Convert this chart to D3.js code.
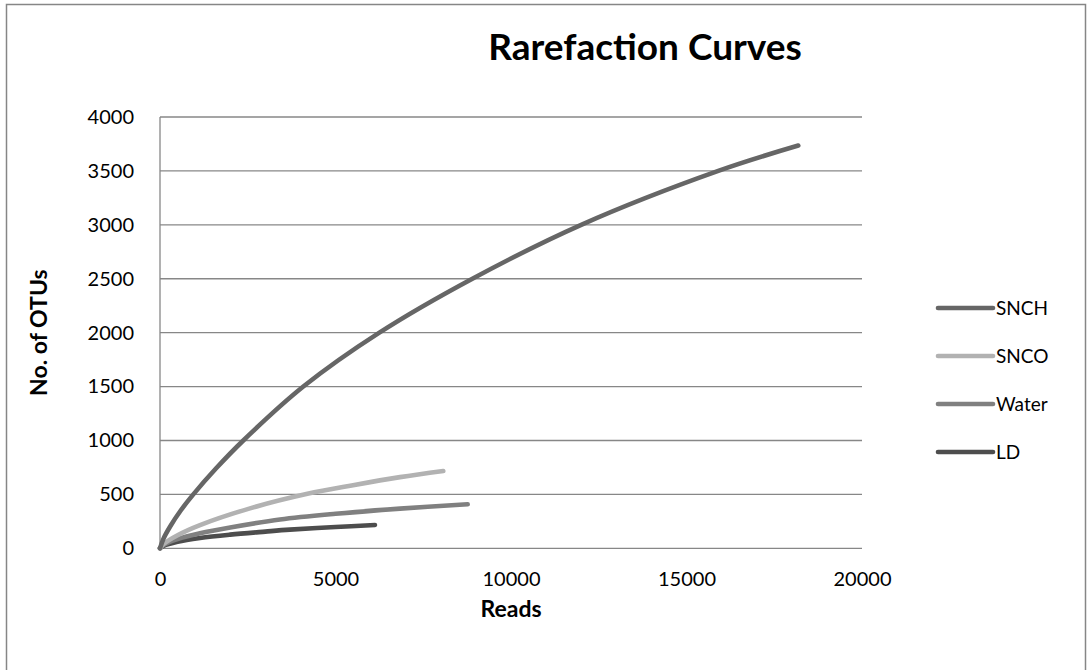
<!DOCTYPE html>
<html>
<head>
<meta charset="utf-8">
<script src="https://cdn.jsdelivr.net/npm/d3@7"></script>
<style>
  html, body { margin: 0; padding: 0; background: #fff; }
  svg { display: block; }
  text { font-family: Lato, "Open Sans", "Noto Sans", sans-serif; fill: #000; }
</style>
</head>
<body>
<svg id="chart" width="1090" height="670"></svg>
<script>
// Rarefaction data: sequencing reads sampled vs. observed OTUs
const seriesNames = ["SNCH", "SNCO", "Water", "LD"];

const snchReads = [0, 100, 285, 600, 949, 1600, 2373, 4083, 6250, 8900, 12000, 15906, 18185];
const snchOtus  = [0, 90, 200, 355, 500, 742, 1000, 1500, 2000, 2500, 3000, 3500, 3735];

const sncoReads = [0, 100, 500, 1140, 2564, 4200, 5500, 6838, 8071];
const sncoOtus  = [0, 39, 121, 215, 370, 505, 585, 660, 717];

const waterReads = [0, 100, 500, 1140, 2000, 3419, 5000, 6838, 8766];
const waterOtus  = [0, 30, 85, 139, 193, 267, 320, 368, 408];

const ldReads = [0, 100, 500, 1140, 2000, 3000, 3700, 5000, 6125];
const ldOtus  = [0, 23, 61, 96, 127, 155, 173, 197, 216];

const xTicks = [0, 5000, 10000, 15000, 20000];
const yTicks = [0, 500, 1000, 1500, 2000, 2500, 3000, 3500, 4000];

const seriesColors = ["#666666", "#b2b2b2", "#808080", "#4d4d4d"];

const series = [
  { name: seriesNames[0], reads: snchReads, otus: snchOtus },
  { name: seriesNames[1], reads: sncoReads, otus: sncoOtus },
  { name: seriesNames[2], reads: waterReads, otus: waterOtus },
  { name: seriesNames[3], reads: ldReads, otus: ldOtus }
].map((s, i) => ({ ...s, color: seriesColors[i],
  points: s.reads.map((r, j) => [r, s.otus[j]]) }));

const svg = d3.select("#chart");

// outer chart frame
svg.append("rect")
  .attr("x", 6.5).attr("y", 4.5)
  .attr("width", 1079).attr("height", 680)
  .attr("fill", "#fff")
  .attr("stroke", "#868686").attr("stroke-width", 1.5);

const plot = { left: 160, right: 862, top: 117, bottom: 548.3 };

const x = d3.scaleLinear().domain([0, 20000]).range([plot.left, plot.right]);
const y = d3.scaleLinear().domain([0, 4000]).range([plot.bottom, plot.top]);

// horizontal gridlines
svg.append("g")
  .selectAll("line")
  .data(yTicks)
  .join("line")
  .attr("x1", plot.left).attr("x2", plot.right)
  .attr("y1", d => y(d)).attr("y2", d => y(d))
  .attr("stroke", "#878787").attr("stroke-width", 1.3);

// vertical axis line
svg.append("line")
  .attr("x1", plot.left).attr("x2", plot.left)
  .attr("y1", plot.top).attr("y2", plot.bottom)
  .attr("stroke", "#878787").attr("stroke-width", 1.3);

// y axis labels
const yAxis = d3.axisLeft(y).tickValues(yTicks).tickSize(0).tickPadding(26)
  .tickFormat(d3.format("d"));
const gy = svg.append("g").attr("transform", `translate(${plot.left},0)`).call(yAxis);
gy.select(".domain").remove();
gy.selectAll("text")
  .style("font-family", "Lato, 'Open Sans', sans-serif")
  .style("font-size", "20px").attr("fill", "#000");

// x axis labels
const xAxis = d3.axisBottom(x).tickValues(xTicks).tickSize(0).tickPadding(24)
  .tickFormat(d3.format("d"));
const gx = svg.append("g").attr("transform", `translate(0,${plot.bottom})`).call(xAxis);
gx.select(".domain").remove();
gx.selectAll("text")
  .style("font-family", "Lato, 'Open Sans', sans-serif")
  .style("font-size", "20px").attr("fill", "#000");

// curves
const line = d3.line()
  .x(d => x(d[0]))
  .y(d => y(d[1]))
  .curve(d3.curveCatmullRom.alpha(0.5));

svg.append("g")
  .selectAll("path")
  .data(series.slice().reverse())
  .join("path")
  .attr("d", d => line(d.points))
  .attr("fill", "none")
  .attr("stroke", d => d.color)
  .attr("stroke-width", 4.6)
  .attr("stroke-linecap", "round")
  .attr("stroke-linejoin", "round");

// title
svg.append("text")
  .attr("x", 645).attr("y", 60)
  .attr("text-anchor", "middle")
  .style("font-size", "37px").style("font-weight", "bold")
  .text("Rarefaction Curves");

// axis titles
svg.append("text")
  .attr("x", (plot.left + plot.right) / 2).attr("y", 617)
  .attr("text-anchor", "middle")
  .style("font-size", "23px").style("font-weight", "bold")
  .text("Reads");

svg.append("text")
  .attr("transform", `translate(47,${(plot.top + plot.bottom) / 2}) rotate(-90)`)
  .attr("text-anchor", "middle")
  .style("font-size", "23px").style("font-weight", "bold")
  .text("No. of OTUs");

// legend
const legendY = d3.scalePoint().domain(seriesNames).range([308, 452]);
const legend = svg.append("g")
  .selectAll("g")
  .data(series)
  .join("g")
  .attr("transform", d => `translate(0,${legendY(d.name)})`);

legend.append("line")
  .attr("x1", 938).attr("x2", 993)
  .attr("stroke", d => d.color)
  .attr("stroke-width", 4.6)
  .attr("stroke-linecap", "round");

legend.append("text")
  .attr("x", 996).attr("y", 0)
  .attr("dy", "0.36em")
  .style("font-size", "19px")
  .text(d => d.name);
</script>
</body>
</html>
